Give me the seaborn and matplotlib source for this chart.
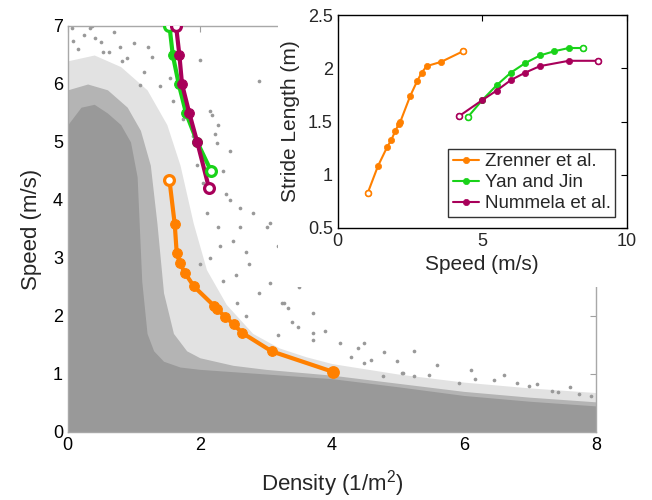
import numpy as np
import pandas as pd
import matplotlib
matplotlib.use("Agg")
import matplotlib.pyplot as plt
from matplotlib.patches import Rectangle
import seaborn as sns

# ---- data ----
# Zrenner et al.
zr_speed = [1.04, 1.39, 1.71, 1.86, 1.99, 2.12, 2.17, 2.51, 2.75, 2.91, 3.08, 3.58, 4.34]
zr_stride = [0.83, 1.08, 1.26, 1.33, 1.41, 1.48, 1.50, 1.74, 1.88, 1.96, 2.02, 2.06, 2.16]
zr_density = [4.01, 3.09, 2.64, 2.51, 2.38, 2.26, 2.22, 1.91, 1.77, 1.70, 1.65, 1.62, 1.54]

# Yan and Jin
yj_speed = [4.5, 5.0, 5.5, 6.0, 6.5, 7.0, 7.5, 8.0, 8.5]
yj_stride = [1.54, 1.70, 1.84, 1.96, 2.05, 2.12, 2.16, 2.19, 2.19]
yj_main_speed = [4.5, 5.0, 5.5, 6.0, 6.5, 7.0]
yj_main_density = [2.17, 1.96, 1.79, 1.68, 1.59, 1.54]

# Nummela et al.
nu_speed = [4.2, 5.0, 5.5, 6.0, 6.5, 7.0, 8.0, 9.0]
nu_stride = [1.55, 1.70, 1.79, 1.89, 1.96, 2.02, 2.07, 2.07]
nu_main_speed = [4.2, 5.0, 5.5, 6.0, 6.5, 7.0]
nu_main_density = [2.14, 1.96, 1.84, 1.73, 1.69, 1.64]

# pedestrian cloud: upper edges of the solid core, dense fringe and sparse fringe
core_x = [0, 0.2, 0.4, 0.6, 0.8, 0.95, 1.05, 1.12, 1.2, 1.3, 1.45, 1.7, 2.0, 2.5, 3.0, 3.5, 4.0, 5.0, 6.0, 7.0, 8.0]
core_top = [5.3, 5.6, 5.65, 5.5, 5.3, 5.0, 4.4, 2.6, 1.7, 1.4, 1.22, 1.12, 1.08, 1.04, 1.0, 0.96, 0.92, 0.78, 0.63, 0.53, 0.45]
dense_x = [0, 0.3, 0.6, 0.9, 1.1, 1.25, 1.35, 1.45, 1.6, 1.8, 2.0, 2.5, 3.0, 4.0, 5.0, 6.0, 7.0, 8.0]
dense_top = [5.9, 6.0, 5.9, 5.6, 5.2, 4.6, 3.6, 2.4, 1.7, 1.4, 1.28, 1.15, 1.08, 0.98, 0.84, 0.7, 0.6, 0.52]
sparse_x = [0, 0.4, 0.8, 1.2, 1.5, 1.7, 1.9, 2.1, 2.4, 2.8, 3.2, 3.6, 4.0, 5.0, 6.0, 7.0, 8.0]
sparse_top = [6.4, 6.5, 6.3, 5.9, 5.3, 4.6, 3.6, 2.8, 2.2, 1.7, 1.45, 1.3, 1.18, 1.0, 0.86, 0.76, 0.68]

# isolated points
out_density = [0.06, 0.08, 0.33, 0.36, 0.41, 0.51, 0.53, 0.79, 0.82, 0.89, 1.22, 1.28, 1.09, 1.40,
               2.0, 2.19, 2.23, 2.26, 2.89, 2.16, 2.28, 2.46, 2.81, 3.07, 2.46, 2.61, 2.11, 2.28,
               2.61, 3.18, 3.27, 3.71, 4.13, 3.72, 3.02, 3.50, 3.25, 3.34, 3.48, 3.71, 3.19, 3.07,
               2.57, 4.48, 4.79, 4.29, 4.98, 5.24, 5.08, 4.77, 4.48, 5.06, 5.47, 6.11, 5.93, 6.46,
               6.99, 7.33, 7.43, 7.74, 7.93, 5.24, 6.17,
               0.15, 0.25, 0.62, 0.70, 1.0, 1.15, 1.55, 1.6, 1.75, 1.9, 1.95, 2.05, 2.35, 2.4,
               2.5, 2.7, 2.75, 2.3, 2.15, 2.55, 2.9, 2.0, 2.35, 2.7, 3.4, 3.9, 4.4, 4.6, 5.6,
               6.6, 6.8, 7.1, 7.6]
out_speed = [6.96, 6.74, 6.97, 7.0, 6.79, 6.72, 6.55, 6.63, 6.39, 6.44, 6.63, 6.46, 5.99, 5.96,
             6.42, 5.47, 5.13, 4.99, 6.06, 5.53, 5.30, 4.84, 3.78, 3.61, 4.0, 3.87, 3.78, 3.54,
             3.54, 3.2, 2.23, 2.05, 1.54, 1.71, 3.54, 2.5, 2.22, 2.14, 1.81, 1.59, 1.68, 2.57,
             2.23, 1.54, 1.38, 1.30, 1.23, 1.40, 1.02, 0.97, 1.19, 1.02, 0.98, 1.07, 0.85, 0.9,
             0.79, 0.71, 0.69, 0.66, 0.62, 0.97, 0.92,
             6.6, 6.85, 6.55, 6.9, 6.7, 6.2, 6.1, 5.7, 5.4, 5.1, 4.6, 4.3, 4.5, 4.1,
             3.3, 3.1, 2.9, 3.2, 3.0, 2.7, 2.4, 2.9, 2.6, 2.0, 1.9, 1.75, 1.45, 1.25, 1.15,
             0.98, 0.85, 0.82, 0.78]

orange = "#FF8000"
green = "#19D219"
purple = "#A8005A"
cloud = "#999999"

sns.set_style("white")
plt.rcParams["font.family"] = ["Liberation Sans", "DejaVu Sans"]
plt.rcParams["mathtext.default"] = "regular"

fig = plt.figure(figsize=(6.52, 5.0), dpi=100)

# ---- main axes ----
ax = fig.add_axes([0.104, 0.136, 0.810, 0.812])
ax.fill_between(sparse_x, 0, sparse_top, color="#e2e2e2", lw=0)
ax.fill_between(dense_x, 0, dense_top, color="#b4b4b4", lw=0)
ax.fill_between(core_x, 0, core_top, color=cloud, lw=0)
sns.scatterplot(x=out_density, y=out_speed, color=cloud, s=7, linewidth=0, ax=ax)

sns.lineplot(x=zr_density, y=zr_speed, sort=False, estimator=None, color=orange, lw=3,
             marker="o", markersize=7, markeredgecolor=orange, ax=ax)
sns.scatterplot(x=[zr_density[-1]], y=[zr_speed[-1]], s=50, facecolor="white",
                edgecolor=orange, linewidth=2.3, ax=ax, zorder=5)
sns.scatterplot(x=[zr_density[0]], y=[zr_speed[0]], s=85, color=orange, linewidth=0, ax=ax, zorder=5)

sns.lineplot(x=yj_main_density, y=yj_main_speed, sort=False, estimator=None, color=green, lw=3,
             marker="o", markersize=7, markeredgecolor=green, ax=ax)
sns.scatterplot(x=[yj_main_density[0], yj_main_density[-1]], y=[yj_main_speed[0], yj_main_speed[-1]],
                s=50, facecolor="white", edgecolor=green, linewidth=2.3, ax=ax, zorder=5)
sns.lineplot(x=nu_main_density, y=nu_main_speed, sort=False, estimator=None, color=purple, lw=3,
             marker="o", markersize=7, markeredgecolor=purple, ax=ax)
sns.scatterplot(x=[nu_main_density[0], nu_main_density[-1]], y=[nu_main_speed[0], nu_main_speed[-1]],
                s=50, facecolor="white", edgecolor=purple, linewidth=2.3, ax=ax, zorder=6)

ax.set_xlim(0, 8)
ax.set_ylim(0, 7)
ax.set_xticks([0, 2, 4, 6, 8])
ax.set_yticks(range(8))
ax.tick_params(direction="in", length=4, color="#a0a0a0", labelsize=13, top=True, right=True,
               labelcolor="black")
for sp in ax.spines.values():
    sp.set_color("#a8a8a8")
    sp.set_linewidth(1)
ax.set_xlabel("Density (1/m$^2$)", fontsize=16, labelpad=10)
ax.set_ylabel("Speed (m/s)", fontsize=16, labelpad=8)

# white panel behind the inset
fig.add_artist(Rectangle((0.426, 0.426), 0.6, 0.6, transform=fig.transFigure,
                         facecolor="white", edgecolor="none", zorder=1))

# ---- inset ----
ins = fig.add_axes([0.518, 0.544, 0.443, 0.426], zorder=2)
ins.set_facecolor("white")
for xs, ys, col, lab in [(zr_speed, zr_stride, orange, "Zrenner et al."),
                         (yj_speed, yj_stride, green, "Yan and Jin"),
                         (nu_speed, nu_stride, purple, "Nummela et al.")]:
    sns.lineplot(x=xs, y=ys, sort=False, estimator=None, color=col, lw=1.5, marker="o",
                 markersize=4.5, markeredgecolor=col, markeredgewidth=0.5, label=lab, ax=ins)
    sns.scatterplot(x=[xs[0], xs[-1]], y=[ys[0], ys[-1]], s=18, facecolor="white",
                    edgecolor=col, linewidth=1.2, ax=ins, zorder=5)

ins.set_xlim(0, 10)
ins.set_ylim(0.5, 2.5)
ins.set_xticks([0, 5, 10])
ins.set_yticks([0.5, 1, 1.5, 2, 2.5])
ins.set_yticklabels(["0.5", "1", "1.5", "2", "2.5"])
ins.tick_params(direction="in", length=4, labelsize=13, top=True, right=True, color="black")
for sp in ins.spines.values():
    sp.set_color("black")
    sp.set_linewidth(1)
ins.set_xlabel("Speed (m/s)", fontsize=15, labelpad=4)
ins.set_ylabel("Stride Length (m)", fontsize=15, labelpad=6)
leg = ins.legend(loc="lower right", fontsize=13.5, frameon=True, fancybox=False,
                 edgecolor="black", handlelength=1.4, handletextpad=0.3, borderpad=0.25,
                 labelspacing=0.2, borderaxespad=0.6)
leg.get_frame().set_linewidth(1)

fig.savefig("out.png", dpi=100)
